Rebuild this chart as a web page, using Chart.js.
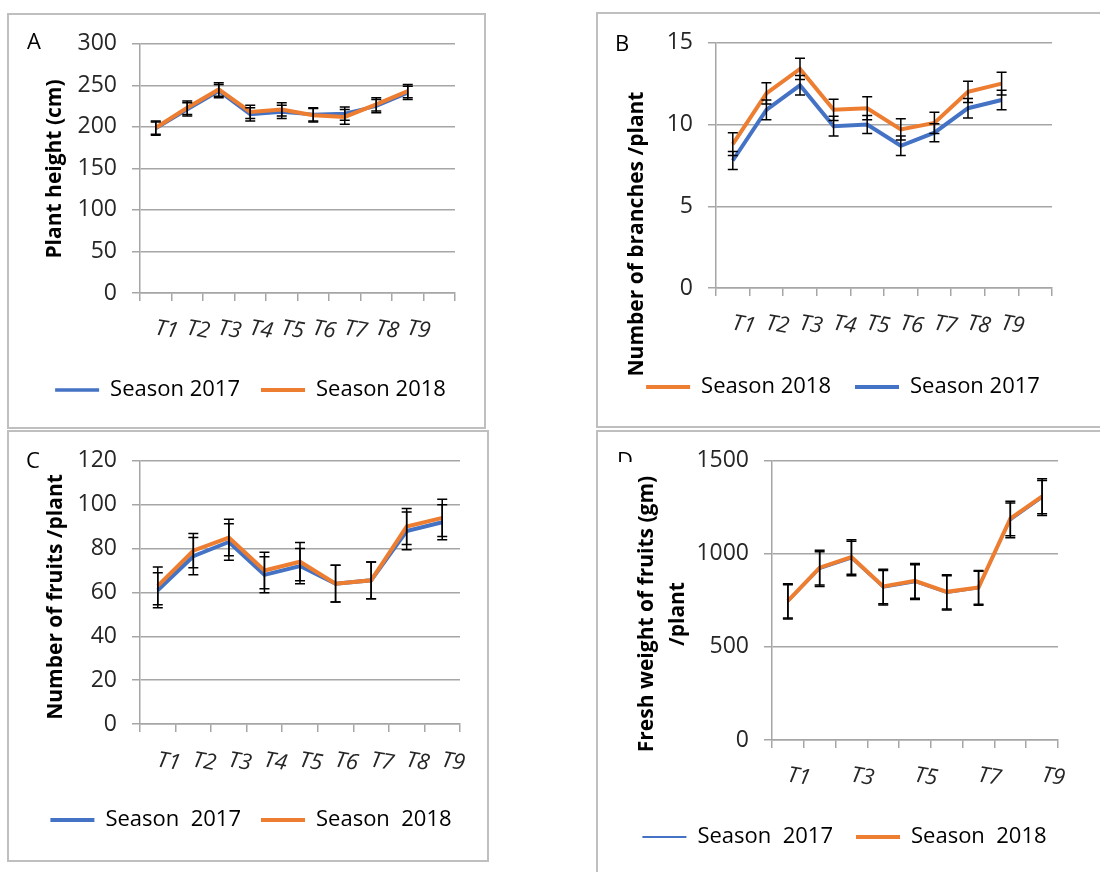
<!DOCTYPE html>
<html>
<head>
<meta charset="utf-8">
<script src="https://cdn.jsdelivr.net/npm/chart.js@4.4.0/dist/chart.umd.min.js"></script>
<style>
  body { margin: 0; width: 1100px; height: 872px; overflow: hidden; background: #fff; position: relative; font-family: "Open Sans", sans-serif; }
  .frame { position: absolute; border: 2px solid #bfbfbf; box-sizing: border-box; }
  canvas { position: absolute; }
  .tag { position: absolute; font-size: 22px; line-height: 22px; color: #000; }
</style>
</head>
<body>
<div class="frame" style="left:7px;top:13px;width:479px;height:416px"></div>
<div class="frame" style="left:596px;top:12px;width:520px;height:416px"></div>
<div class="frame" style="left:7px;top:430px;width:482px;height:432px"></div>
<div class="frame" style="left:596px;top:430px;width:520px;height:460px"></div>

<canvas id="chartA" width="483" height="411" style="left:9px;top:15px"></canvas>
<canvas id="chartB" width="490" height="411" style="left:598px;top:14px"></canvas>
<canvas id="chartC" width="484" height="427" style="left:9px;top:432px"></canvas>
<canvas id="chartD" width="493" height="440" style="left:598px;top:432px"></canvas>

<div class="tag" style="left:27px;top:29px">A</div>
<div class="tag" style="left:615px;top:31px">B</div>
<div class="tag" style="left:26px;top:448px">C</div>
<div class="tag" style="left:617px;top:448px;height:14px;overflow:hidden">D</div>

<script>
// categories
const labelsAB = ['T1', 'T2', 'T3', 'T4', 'T5', 'T6', 'T7', 'T8', 'T9', ''];
const labelsCD = ['T1', 'T2', 'T3', 'T4', 'T5', 'T6', 'T7', 'T8', 'T9'];

// A - plant height (cm)
const height2017 = [198, 221, 243, 215, 218, 215, 216, 225, 241];
const height2018 = [199, 223, 245, 218, 221, 214, 212, 227, 243];
const heightErr2017 = [8, 8, 8, 8, 8, 8, 8, 8, 8];
const heightErr2018 = [8, 8, 8, 8, 8, 8, 9, 8, 8];

// B - number of branches / plant
const branches2017 = [7.8, 10.9, 12.4, 9.9, 10.0, 8.7, 9.5, 11.0, 11.5];
const branches2018 = [8.8, 11.9, 13.4, 10.9, 11.0, 9.7, 10.1, 12.0, 12.5];
const branchesErr2017 = [0.55, 0.6, 0.6, 0.6, 0.55, 0.6, 0.55, 0.6, 0.6];
const branchesErr2018 = [0.7, 0.65, 0.65, 0.65, 0.7, 0.65, 0.65, 0.65, 0.7];

// C - number of fruits / plant
const fruits2017 = [61, 76.5, 83, 68, 72, 64, 65.5, 88, 92];
const fruits2018 = [63, 79, 85, 70, 74, 64, 65.5, 90, 94];
const fruitsErr2017 = [8, 8.5, 8.3, 8.2, 8, 8.4, 8.4, 8.6, 8];
const fruitsErr2018 = [8.6, 7.8, 8.3, 8.3, 8.7, 8.4, 8.4, 8.2, 8.5];

// D - fresh weight of fruits (gm) / plant
const weight2017 = [742, 918, 975, 818, 848, 790, 815, 1180, 1300];
const weight2018 = [748, 926, 983, 825, 855, 796, 820, 1190, 1309];
const weightErr2017 = [92, 93, 93, 93, 93, 92, 91, 93, 94];
const weightErr2018 = [92, 93, 93, 93, 93, 92, 91, 93, 94];

const BLUE = '#4472c4';
const ORANGE = '#ed7d31';
const GRID = '#a6a6a6';
const TEXT = '#262626';

// black error bars with caps
const errorBars = {
  id: 'errorBars',
  afterDatasetsDraw(chart) {
    const ctx = chart.ctx;
    const y = chart.scales.y;
    ctx.save();
    ctx.strokeStyle = '#000';
    ctx.lineWidth = 1.5;
    chart.data.datasets.forEach((ds, di) => {
      const meta = chart.getDatasetMeta(di);
      ds.data.forEach((v, i) => {
        const px = meta.data[i].x;
        const top = y.getPixelForValue(v + ds.errors[i]);
        const bot = y.getPixelForValue(v - ds.errors[i]);
        ctx.beginPath();
        ctx.moveTo(px, top); ctx.lineTo(px, bot);
        ctx.moveTo(px - 5, top); ctx.lineTo(px + 5, top);
        ctx.moveTo(px - 5, bot); ctx.lineTo(px + 5, bot);
        ctx.stroke();
      });
    });
    ctx.restore();
  }
};

// vertical bold axis title(s)
const sideTitle = {
  id: 'sideTitle',
  afterDraw(chart, args, o) {
    const ctx = chart.ctx;
    ctx.save();
    ctx.font = 'bold 21px "Open Sans"';
    ctx.fillStyle = '#000';
    ctx.textAlign = 'center';
    ctx.textBaseline = 'middle';
    o.lines.forEach((t, i) => {
      ctx.save();
      ctx.translate(o.x[i], o.y);
      ctx.rotate(-Math.PI / 2);
      ctx.fillText(t, 0, 0);
      ctx.restore();
    });
    ctx.restore();
  }
};

// italic, slightly tilted category labels
const slantTicks = {
  id: 'slantTicks',
  afterDraw(chart, args, o) {
    const sc = chart.scales.x;
    const ctx = chart.ctx;
    ctx.save();
    ctx.font = 'italic 22px "Open Sans"';
    ctx.fillStyle = TEXT;
    ctx.textAlign = 'center';
    ctx.textBaseline = 'middle';
    chart.data.labels.forEach((lab, i) => {
      if (!lab || i % o.step) return;
      ctx.save();
      ctx.translate(sc.getPixelForValue(i) + 11, sc.top + o.dy);
      ctx.rotate(10 * Math.PI / 180);
      ctx.fillText(lab, 0, 0);
      ctx.restore();
    });
    ctx.restore();
  }
};

function buildChart(id, labels, series, opt) {
  return new Chart(document.getElementById(id), {
    type: 'line',
    data: {
      labels: labels,
      datasets: series.map(s => ({
        label: s.label,
        data: s.data,
        errors: s.errors,
        borderColor: s.color,
        backgroundColor: s.color,
        borderWidth: s.width,
        pointRadius: 0,
        tension: 0,
        fill: false
      }))
    },
    options: {
      responsive: false,
      animation: false,
      layout: { padding: { left: 0, right: 0, top: opt.top, bottom: opt.bottom } },
      plugins: {
        legend: {
          position: 'bottom',
          reverse: !!opt.reverse,
          labels: {
            usePointStyle: true,
            pointStyle: 'line',
            pointStyleWidth: 44,
            padding: opt.legendPad,
            color: '#000',
            font: { family: 'Open Sans', size: 22 },
            generateLabels: chart => Chart.defaults.plugins.legend.labels.generateLabels(chart).map(item => {
              const ds = chart.data.datasets[item.datasetIndex];
              item.lineWidth = ds.borderWidth;
              item.strokeStyle = ds.borderColor;
              item.pointStyle = 'line';
              return item;
            })
          }
        },
        tooltip: { enabled: false },
        sideTitle: opt.title,
        slantTicks: { step: opt.step || 1, dy: opt.dy || 37 }
      },
      scales: {
        x: {
          offset: true,
          grid: { offset: true, drawOnChartArea: false, drawTicks: true, tickLength: 8, color: GRID, lineWidth: 1.5 },
          border: { color: GRID, width: 1.5 },
          ticks: { display: false },
          afterFit: s => { s.height = opt.xHeight; }
        },
        y: {
          min: 0,
          max: opt.max,
          ticks: {
            stepSize: opt.stepSize, padding: 15, color: TEXT,
            font: { family: 'Open Sans', size: 23 },
            callback: v => String(v)
          },
          grid: { color: GRID, lineWidth: 1.5, tickLength: 8 },
          border: { color: GRID, width: 1.5 },
          afterFit: s => { s.width = opt.yWidth; }
        },
        // empty right-hand spacer so the legend can be wider than the plot
        spacer: {
          type: 'linear',
          axis: 'y',
          position: 'right',
          grid: { display: false, drawTicks: false },
          border: { display: false },
          ticks: { display: false },
          afterFit: s => { s.width = opt.rWidth; }
        }
      }
    },
    plugins: [errorBars, sideTitle, slantTicks]
  });
}

buildChart('chartA', labelsAB, [
  { label: 'Season 2018', data: height2018, errors: heightErr2018, color: ORANGE, width: 4 },
  { label: 'Season 2017', data: height2017, errors: heightErr2017, color: BLUE, width: 3.5 }
], {
  reverse: true, max: 300, stepSize: 50,
  top: 27, bottom: 15, yWidth: 131, rWidth: 37, xHeight: 65, legendPad: 21,
  title: { lines: ['Plant height (cm)'], x: [46], y: 154 }
});

buildChart('chartB', labelsAB, [
  { label: 'Season 2018', data: branches2018, errors: branchesErr2018, color: ORANGE, width: 4 },
  { label: 'Season 2017', data: branches2017, errors: branchesErr2017, color: BLUE, width: 4 }
], {
  max: 15, stepSize: 5,
  top: 28, bottom: 17, yWidth: 118, rWidth: 36, xHeight: 64, legendPad: 24,
  title: { lines: ['Number of branches /plant'], x: [39], y: 220 }
});

buildChart('chartC', labelsCD, [
  { label: 'Season  2018', data: fruits2018, errors: fruitsErr2018, color: ORANGE, width: 4 },
  { label: 'Season  2017', data: fruits2017, errors: fruitsErr2017, color: BLUE, width: 4 }
], {
  reverse: true, max: 120, stepSize: 20,
  top: 27, bottom: 18, yWidth: 131, rWidth: 33, xHeight: 65, legendPad: 20, dy: 38,
  title: { lines: ['Number of fruits /plant'], x: [47], y: 165 }
});

buildChart('chartD', labelsCD, [
  { label: 'Season  2018', data: weight2018, errors: weightErr2018, color: ORANGE, width: 4 },
  { label: 'Season  2017', data: weight2017, errors: weightErr2017, color: BLUE, width: 2 }
], {
  reverse: true, max: 1500, stepSize: 500, step: 2,
  top: 27, bottom: 14, yWidth: 174, rWidth: 33, xHeight: 63, legendPad: 23,
  title: { lines: ['Fresh weight of fruits (gm)', '/plant'], x: [49, 80], y: 182 }
});
</script>
</body>
</html>
